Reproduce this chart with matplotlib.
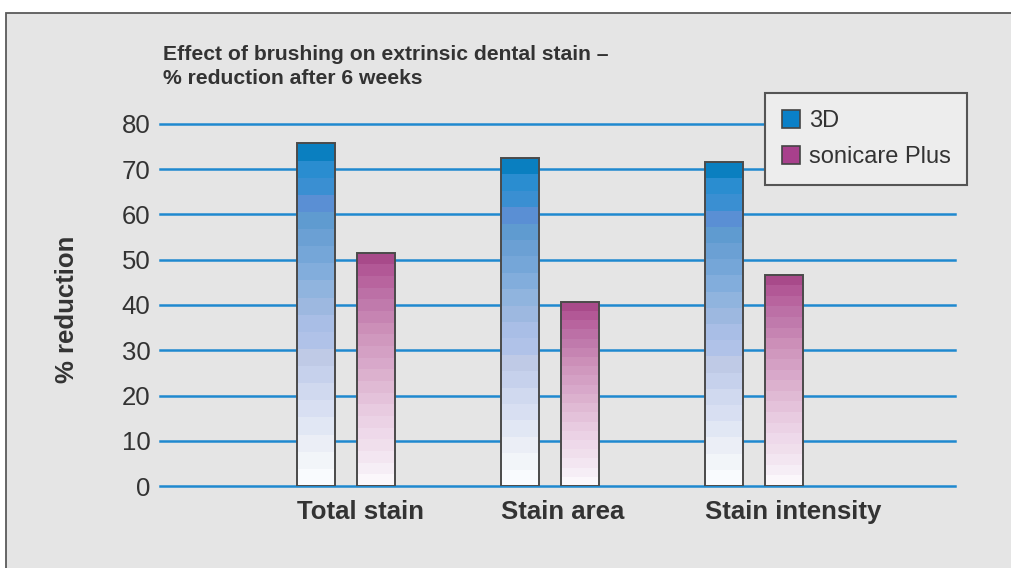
import numpy as np
import matplotlib.pyplot as plt
from matplotlib.patches import Rectangle, Patch

plt.rcParams['font.family'] = ['Liberation Sans', 'DejaVu Sans']

# data
categories = ['Total stain', 'Stain area', 'Stain intensity']
series_names = ['3D', 'sonicare Plus']
vals_3d = [75.7, 72.5, 71.6]
vals_sonicare = [51.6, 40.7, 46.7]
yticks = [0, 10, 20, 30, 40, 50, 60, 70, 80]
title = 'Effect of brushing on extrinsic dental stain –\n% reduction after 6 weeks'
ylabel = '% reduction'

# stepped gradients, top band first
blue_bands = ['#0a7fc0', '#2a8dd0', '#3a8fd2', '#5a8fd4', '#5f9bd0', '#6ba0d4', '#75a6d8',
              '#82addc', '#90b4de', '#9db8e0', '#a9bee6', '#b0c2e8', '#bfcae6', '#c6d1ec',
              '#d0d9ef', '#d8dff2', '#e1e7f4', '#ebeef6', '#f2f5f9', '#f9fbfe']
pink_bands = ['#a84a8a', '#b25896', '#b8649e', '#bc70a6', '#c07aac', '#c684b2', '#cc8fb8',
              '#d098be', '#d4a0c4', '#d8a8ca', '#dcb1ce', '#e0bad4', '#e4c2da', '#e8cbe0',
              '#ebd2e5', '#eed9ea', '#f0dfec', '#f3e6f1', '#f6eef6', '#fbf7fb']

fig = plt.figure(figsize=(10.12, 5.68), dpi=100, facecolor='white')

# grey panel with a frame on the top/left
fig.add_artist(Rectangle((6.5 / 1012, -0.05), 1.2, 1.05 - 12.5 / 568,
                         transform=fig.transFigure, facecolor='#e5e5e5',
                         edgecolor='#5a5a5a', lw=1.3, zorder=0))

ax = fig.add_axes([160 / 1012, 1 - 486 / 568, 795 / 1012, 362 / 568])
ax.patch.set_alpha(0)

x = np.arange(len(categories))
w = 0.186
off = 0.147


def gradient_bar(xc, val, bands):
    n = len(bands)
    h = val / n
    for i, c in enumerate(bands[::-1]):
        ax.bar(xc, h, w, bottom=i * h, color=c, lw=0, zorder=2)
    ax.bar(xc, val, w, fill=False, edgecolor='#4a4a4a', lw=1.4, zorder=3)


for xi, a, b in zip(x, vals_3d, vals_sonicare):
    gradient_bar(xi - off, a, blue_bands)
    gradient_bar(xi + off, b, pink_bands)

ax.set_ylim(0, 80)
ax.set_xlim(-0.912, 2.985)
ax.set_yticks(yticks)
ax.set_yticklabels([str(t) for t in yticks], fontsize=18.5, color='#333333')
ax.set_xticks(x - off - w / 2)
ax.set_xticklabels(categories, fontsize=18.5, fontweight='bold', color='#333333', ha='left')
ax.tick_params(axis='both', length=0)
ax.tick_params(axis='y', pad=7)
ax.tick_params(axis='x', pad=10)
for s in ax.spines.values():
    s.set_visible(False)
ax.yaxis.grid(True, color='#1f89cf', lw=1.8)
ax.set_axisbelow(True)
for gl in ax.get_ygridlines():
    gl.set_clip_on(False)

fig.text(67 / 1012, 1 - 309 / 568, ylabel, rotation=90, fontsize=18.5, fontweight='bold',
         color='#333333', ha='center', va='center')
fig.text(163 / 1012, 1 - 45 / 568, title, fontsize=15.2, fontweight='bold', color='#333333',
         ha='left', va='top', linespacing=1.35)

handles = [Patch(facecolor='#0a80c8', edgecolor='#444444', lw=1.2),
           Patch(facecolor='#a8408c', edgecolor='#444444', lw=1.2)]
leg = fig.legend(handles, series_names, loc='upper left', bbox_to_anchor=(765 / 1012, 1 - 93 / 568),
                 fontsize=17, frameon=True, fancybox=False, handlelength=0.8, handleheight=0.8,
                 handletextpad=0.35, labelspacing=0.6, borderpad=0.7, borderaxespad=0)
leg.get_frame().set_facecolor('#ededed')
leg.get_frame().set_edgecolor('#555555')
leg.get_frame().set_linewidth(1.5)
leg.get_frame().set_alpha(1)
for t in leg.get_texts():
    t.set_color('#333333')

fig.savefig('out.png', dpi=100)
